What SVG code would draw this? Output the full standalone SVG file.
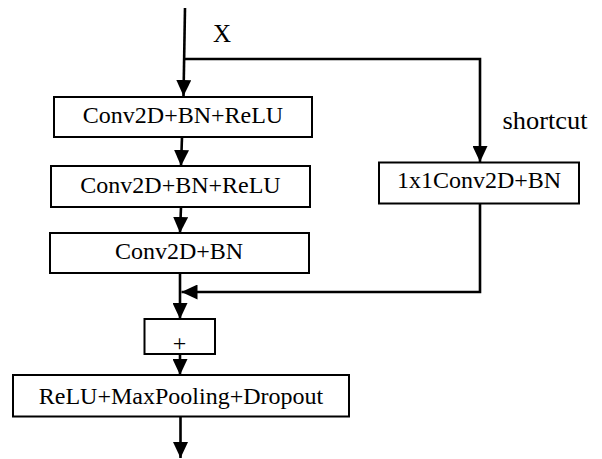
<svg xmlns="http://www.w3.org/2000/svg" width="602" height="459" viewBox="0 0 602 459">
  <style>
    .box { fill: #ffffff; stroke: #000000; stroke-width: 2; }
    .lbl { font-family: 'Liberation Serif', 'DejaVu Serif', serif; font-size: 24px; fill: #000000; text-anchor: middle; }
    .note { font-family: 'Liberation Serif', 'DejaVu Serif', serif; font-size: 25px; fill: #000000; }
    .wire { fill: none; stroke: #000000; stroke-width: 2.6; }
  </style>
  <defs>
    <marker id="arrow" viewBox="0 0 16 15" refX="16" refY="7.5" markerWidth="16" markerHeight="15" markerUnits="userSpaceOnUse" orient="auto">
      <path d="M0,0 L16,7.5 L0,15 Z" fill="#000000"/>
    </marker>
  </defs>
  <rect width="602" height="459" fill="#ffffff"/>

  <g id="connectors">
    <path class="wire" d="M185,8 L183.5,96" marker-end="url(#arrow)"/>
    <path class="wire" d="M184.5,59 L480,59 L480,162" marker-end="url(#arrow)"/>
    <path class="wire" d="M182,137 L181,166" marker-end="url(#arrow)"/>
    <path class="wire" d="M181,207 L180,233" marker-end="url(#arrow)"/>
    <path class="wire" d="M180,273 L180,319" marker-end="url(#arrow)"/>
    <path class="wire" d="M480,203 L480,292 L181.5,292" marker-end="url(#arrow)"/>
    <path class="wire" d="M180,354 L180,375" marker-end="url(#arrow)"/>
    <path class="wire" d="M180.5,416 L180.5,458" marker-end="url(#arrow)"/>
  </g>

  <g id="label-x">
    <text class="note" x="213" y="42">X</text>
  </g>
  <g id="label-shortcut">
    <text class="note" x="502.5" y="129" textLength="85" lengthAdjust="spacingAndGlyphs">shortcut</text>
  </g>

  <g id="conv1">
    <rect class="box" x="54" y="97" width="258" height="40"/>
    <text class="lbl" x="183" y="122.5">Conv2D+BN+ReLU</text>
  </g>
  <g id="conv2">
    <rect class="box" x="51" y="166" width="259" height="41"/>
    <text class="lbl" x="180.5" y="193">Conv2D+BN+ReLU</text>
  </g>
  <g id="conv3">
    <rect class="box" x="50" y="233" width="259" height="40"/>
    <text class="lbl" x="179" y="258.5">Conv2D+BN</text>
  </g>
  <g id="shortcut-conv">
    <rect class="box" x="379" y="162.5" width="200" height="41"/>
    <text class="lbl" x="479" y="187.5">1x1Conv2D+BN</text>
  </g>
  <g id="add">
    <rect class="box" x="144.5" y="319" width="70.5" height="35"/>
    <text class="lbl" x="179.5" y="350.5">+</text>
  </g>
  <g id="output">
    <rect class="box" x="13" y="375" width="336" height="41.5"/>
    <text class="lbl" x="181" y="403.5">ReLU+MaxPooling+Dropout</text>
  </g>
</svg>
